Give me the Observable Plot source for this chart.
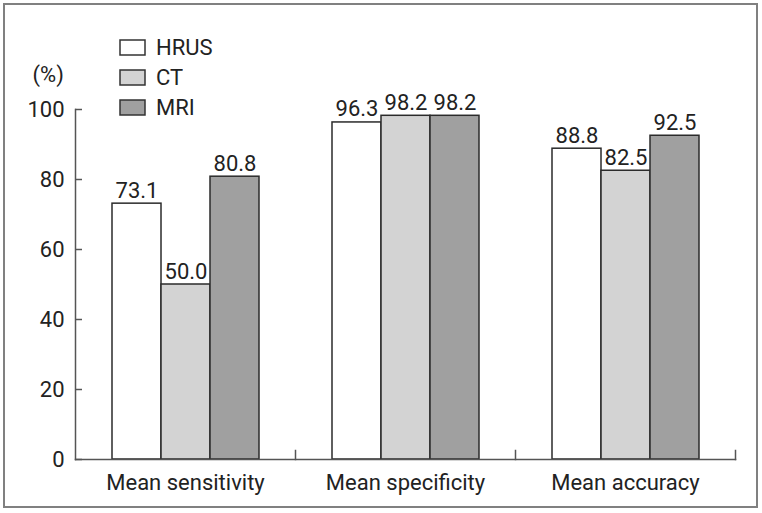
<!DOCTYPE html>
<html>
<head>
<meta charset="utf-8">
<script src="https://cdn.jsdelivr.net/npm/d3@7"></script>
<script src="https://cdn.jsdelivr.net/npm/@observablehq/plot@0.6"></script>
<style>
  html, body { margin: 0; padding: 0; background: #fff; }
  #wrap { position: relative; width: 762px; height: 513px; overflow: hidden; }
  #border { position: absolute; left: 3px; top: 3px; width: 755px; height: 505px; box-sizing: border-box; border: 2px solid #808080; pointer-events: none; }
  #legend { position: absolute; left: 120px; top: 32px; }
  #legend div, #legend span { font-family: Roboto, sans-serif !important; font-size: 22px !important; color: #222 !important; margin-bottom: 0 !important; }
  #legend .lgd-swatch { height: 30px; padding: 0 !important; margin: 0; }
  #legend .lgd-swatch > svg { margin-right: 11px !important; stroke: #333; stroke-width: 1.5px; overflow: visible; }
</style>
</head>
<body>
<div id="wrap"><div id="chart"></div><div id="legend"></div><div id="border"></div></div>
<script>
const categories = ["Mean sensitivity", "Mean specificity", "Mean accuracy"];
const series = ["HRUS", "CT", "MRI"];
const hrusValues = [73.1, 96.3, 88.8];
const ctValues = [50.0, 98.2, 82.5];
const mriValues = [80.8, 98.2, 92.5];
const seriesColors = ["#ffffff", "#d3d3d3", "#a0a0a0"];
const yTicks = [0, 20, 40, 60, 80, 100];
const yLabel = "(%)";

const valuesBySeries = [hrusValues, ctValues, mriValues];
const data = [];
categories.forEach((c, i) => {
  series.forEach((s, j) => data.push({category: c, series: s, value: valuesBySeries[j][i]}));
});

const axisColor = "#555";
const chart = Plot.plot({
  width: 762,
  height: 513,
  marginLeft: 75,
  marginRight: 27,
  marginTop: 109,
  marginBottom: 54,
  style: {fontFamily: "Roboto, sans-serif", fontSize: "22px", color: "#222", background: "transparent"},
  fx: {domain: categories, padding: 0, label: null},
  x: {domain: series, paddingInner: 0, paddingOuter: 0.735, axis: null},
  y: {domain: [0, 100], label: null},
  color: {domain: series, range: seriesColors},
  marks: [
    Plot.barY(data, {fx: "category", x: "series", y: "value", fill: "series", stroke: "#2b2b2b", strokeWidth: 1.5}),
    Plot.text(data, {fx: "category", x: "series", y: "value", text: d => d.value.toFixed(1), dy: -6, lineAnchor: "bottom", fill: "#222"}),
    Plot.frame({anchor: "left", facet: "super", stroke: axisColor, strokeWidth: 1.5}),
    Plot.frame({anchor: "bottom", facet: "super", stroke: axisColor, strokeWidth: 1.5}),
    Plot.frame({anchor: "right", insetTop: 341, stroke: axisColor, strokeWidth: 1.5}),
    Plot.axisY({ticks: yTicks, tickSize: -7, tickPadding: 18, stroke: axisColor, strokeWidth: 1.5, label: null, fill: "#222"}),
    Plot.text([yLabel], {frameAnchor: "top-left", facet: "super", dx: -43, dy: -28, textAnchor: "start", lineAnchor: "bottom", fill: "#222"}),
    Plot.axisFx({anchor: "bottom", tickSize: 0, tickPadding: 15, label: null, fill: "#222"})
  ]
});
document.getElementById("chart").appendChild(chart);

const legend = Plot.legend({
  color: {domain: series, range: seriesColors},
  legend: "swatches",
  columns: 1,
  swatchWidth: 25,
  swatchHeight: 15,
  className: "lgd"
});
document.getElementById("legend").appendChild(legend);
</script>
</body>
</html>
